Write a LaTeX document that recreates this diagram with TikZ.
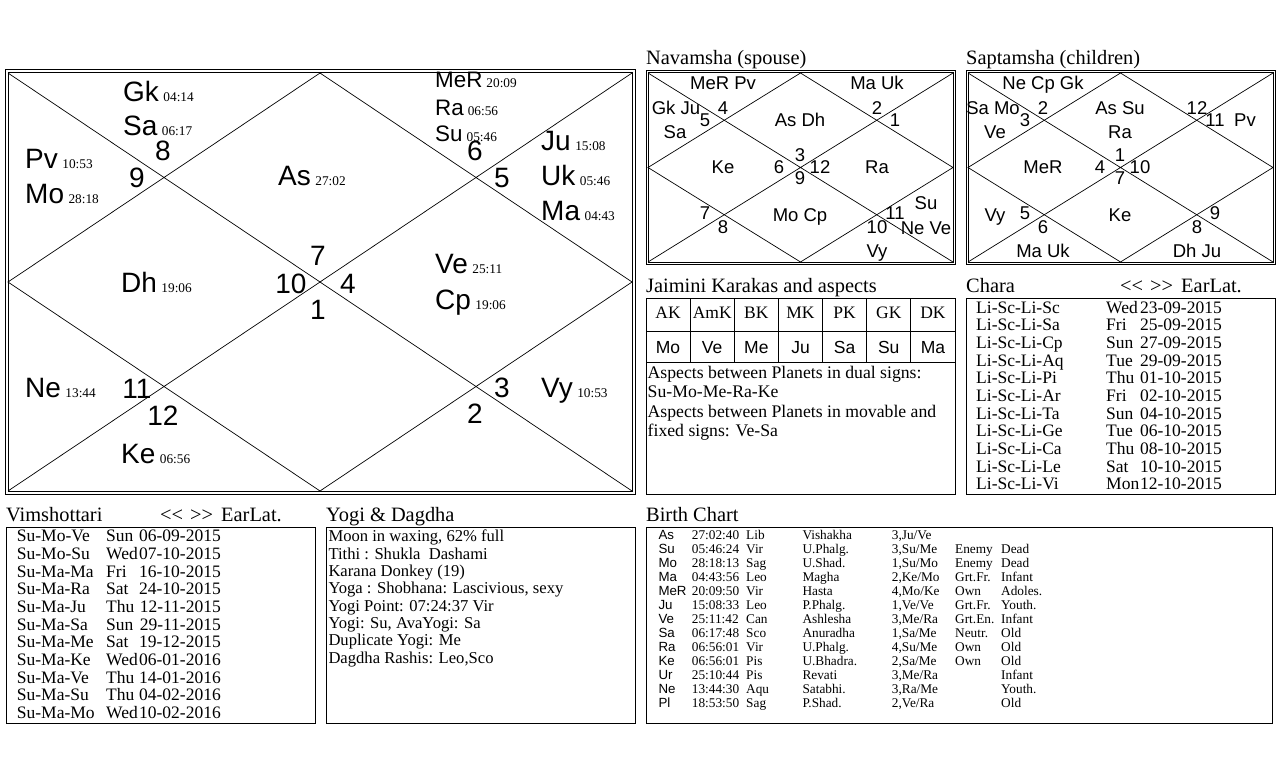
\documentclass[tikz,border=0pt]{standalone}
\usepackage{fontspec}
\setmainfont{Liberation Serif}
\setsansfont{Liberation Sans}
\usetikzlibrary{positioning}
\newcommand\degtxt{\rmfamily\fontsize{13.3}{15}\selectfont}
\newcommand\navarrows{<\kern0pt<\hspace{7pt}>\kern0pt>\hspace{8pt}EarLat.}

\tikzset{
  frameline/.style={draw=black,line width=1pt},
  chartline/.style={draw=black,line width=0.7pt},
  boxline/.style={draw=black,line width=1pt},
  planet/.style={anchor=base west,inner sep=0pt,font=\sffamily\fontsize{28}{30}\selectfont},
  planetsm/.style={anchor=base west,inner sep=0pt,font=\sffamily\fontsize{22.4}{24}\selectfont},
  hnum/.style={anchor=base,inner sep=0pt,yshift=-10pt,font=\sffamily\fontsize{28}{30}\selectfont},
  vargatext/.style={anchor=base,inner sep=0pt,yshift=-6.6pt,font=\sffamily\fontsize{18.5}{20}\selectfont},
  headtext/.style={anchor=base west,inner sep=0pt,font=\fontsize{20.4}{22}\selectfont},
  karaka/.style={anchor=base,inner sep=0pt,yshift=-5.8pt,font=\fontsize{17.5}{19}\selectfont},
  karakapl/.style={anchor=base,inner sep=0pt,yshift=-6.3pt,font=\sffamily\fontsize{17.5}{19}\selectfont},
  jtext/.style={anchor=base west,inner sep=0pt,font=\fontsize{17.7}{19}\selectfont},
  rowtext/.style={anchor=base west,inner sep=0pt,font=\fontsize{17.5}{19}\selectfont},
  yogitext/.style={anchor=base west,inner sep=0pt,font=\fontsize{16.6}{18}\selectfont},
  bctext/.style={anchor=base west,inner sep=0pt,font=\fontsize{13.3}{15}\selectfont},
  bcname/.style={anchor=base west,inner sep=0pt,font=\sffamily\fontsize{13.3}{15}\selectfont}
}

\begin{document}
\begin{tikzpicture}[x=1pt,y=-1pt]
  \fill[white] (0,0) rectangle (1280,768);
  \useasboundingbox (0,0) rectangle (1280,768);

  % the three charts
  \foreach \lx/\ty/\rx/\by/\ox in {8/73/632/491/3, 648/73/953/262/2, 968/73/1273/262/2}{
    \draw[frameline] (\lx-\ox,\ty-\ox) rectangle (\rx+\ox,\by+\ox);
    \draw[frameline] (\lx,\ty) rectangle (\rx,\by);
    \draw[chartline] (\lx,\ty) -- (\rx,\by) (\rx,\ty) -- (\lx,\by);
    \draw[chartline] ({(\lx+\rx)/2},\ty) -- (\rx,{(\ty+\by)/2}) -- ({(\lx+\rx)/2},\by) -- (\lx,{(\ty+\by)/2}) -- cycle;
  }

  % rasi chart
  \foreach \px/\py/\pn/\pg [count=\i] in {123/101.7/Gk/04:14, 123/135/Sa/06:17, 25/168/Pv/10:53, 25/203/Mo/28:18,
      278/185/As/27:02, 541/150/Ju/15:08, 541/185/Uk/05:46, 541/220/Ma/04:43, 435/273/Ve/25:11, 435/309/Cp/19:06,
      121/292/Dh/19:06, 25/397/Ne/13:44, 121/463/Ke/06:56, 541/397/Vy/10:53}
    \node[planet] (pl\i) at (\px,\py) {\pn\hspace{4.5pt}{\degtxt\pg}};
  \foreach \py/\pn/\pg [count=\i] in {88/MeR/20:09, 115/Ra/06:56, 141.7/Su/05:46}
    \node[planetsm] (ps\i) at (435,\py) {\pn\hspace{4pt}{\degtxt\pg}};
  \foreach \hx/\hy/\hn in {163/150/8, 137/177/9, 475/150/6, 502/177/5, 318/255/7, 291/283/10,
      348/283/4, 318/309/1, 137/388/11, 163/415/12, 502/387/3, 475/413/2}
    \node[hnum] (h\hn) at (\hx,\hy) {\hn};

  % navamsha
  \node[headtext] (navt) at (646,65) {Navamsha (spouse)};
  \foreach \vx/\vy/\vt [count=\i] in {723/83/MeR Pv, 877/83/Ma Uk, 676/108/Gk Ju, 675/132/Sa, 705/120/5, 723/108/4,
      800/120/As Dh, 877/108/2, 895/120/1, 723/167/Ke, 779/167/6, 800/155/3, 820/167/12, 800/178/9, 877/167/Ra,
      705/213/7, 723/227/8, 800/215/Mo Cp, 895/213/11, 877/227/10, 926/203/Su, 926/228/Ne Ve, 877/251/Vy}
    \node[vargatext] (nv\i) at (\vx,\vy) {\vt};

  % saptamsha
  \node[headtext] (sapt) at (966,65) {Saptamsha (children)};
  \foreach \vx/\vy/\vt [count=\i] in {1043/83/Ne Cp Gk, 993/108/Sa Mo, 1025/120/3, 1043/108/2, 995/132/Ve,
      1120/108/As Su, 1120/132/Ra, 1197/108/12, 1215/120/11, 1245/120/Pv, 1043/167/MeR, 1100/167/4, 1120/155/1,
      1140/167/10, 1120/178/7, 995/215/Vy, 1025/213/5, 1043/227/6, 1120/215/Ke, 1215/213/9, 1197/227/8,
      1043/251/Ma Uk, 1197/251/Dh Ju}
    \node[vargatext] (sp\i) at (\vx,\vy) {\vt};

  % jaimini
  \node[headtext] (jait) at (646,292.7) {Jaimini Karakas and aspects};
  \draw[boxline] (646,298) rectangle (955,494);
  \draw[boxline] (646,331) -- (955,331) (646,362) -- (955,362);
  \foreach \k in {1,...,6}
    \draw[boxline] (646+44.14*\k,298) -- (646+44.14*\k,362);
  \foreach \kk/\kp [count=\i] in {AK/Mo, AmK/Ve, BK/Me, MK/Ju, PK/Sa, GK/Su, DK/Ma}{
    \node[karaka] (k\i) at ({646+44.14*(\i-0.5)},313) {\kk};
    \node[karakapl] (kp\i) at ({646+44.14*(\i-0.5)},347) {\kp};
  }
  \foreach \ln [count=\i] in {Aspects between Planets in dual signs:, Su-Mo-Me-Ra-Ke,
      Aspects between Planets in movable and, fixed signs: Ve-Sa}
    \node[jtext] (asp\i) at (647.5,{358.8+19.5*\i}) {\ln};

  % chara
  \node[headtext] (chat) at (966,292.7) {Chara};
  \node[headtext] (chanav) at (1120,292.7) {\navarrows};
  \draw[boxline] (966,298) rectangle (1275,494);
  \foreach \da/\dd/\dt [count=\i] in {Li-Sc-Li-Sc/Wed/23-09-2015, Li-Sc-Li-Sa/Fri/25-09-2015, Li-Sc-Li-Cp/Sun/27-09-2015,
      Li-Sc-Li-Aq/Tue/29-09-2015, Li-Sc-Li-Pi/Thu/01-10-2015, Li-Sc-Li-Ar/Fri/02-10-2015, Li-Sc-Li-Ta/Sun/04-10-2015,
      Li-Sc-Li-Ge/Tue/06-10-2015, Li-Sc-Li-Ca/Thu/08-10-2015, Li-Sc-Li-Le/Sat/10-10-2015, Li-Sc-Li-Vi/Mon/12-10-2015}{
    \node[rowtext] (cd\i) at (976,{295.6+17.67*\i}) {\da};
    \node[rowtext] (cw\i) at (1106,{295.6+17.67*\i}) {\dd};
    \node[rowtext,anchor=base east] (ct\i) at (1222,{295.6+17.67*\i}) {\dt};
  }

  % vimshottari
  \node[headtext] (vimt) at (6,521.7) {Vimshottari};
  \node[headtext] (vimnav) at (160,521.7) {\navarrows};
  \draw[boxline] (6,527) rectangle (315,723);
  \foreach \da/\dd/\dt [count=\i] in {Su-Mo-Ve/Sun/06-09-2015, Su-Mo-Su/Wed/07-10-2015, Su-Ma-Ma/Fri/16-10-2015,
      Su-Ma-Ra/Sat/24-10-2015, Su-Ma-Ju/Thu/12-11-2015, Su-Ma-Sa/Sun/29-11-2015, Su-Ma-Me/Sat/19-12-2015,
      Su-Ma-Ke/Wed/06-01-2016, Su-Ma-Ve/Thu/14-01-2016, Su-Ma-Su/Thu/04-02-2016, Su-Ma-Mo/Wed/10-02-2016}{
    \node[rowtext] (vd\i) at (16.7,{524+17.67*\i}) {\da};
    \node[rowtext] (vw\i) at (106,{524+17.67*\i}) {\dd};
    \node[rowtext,anchor=base east] (vt\i) at (221,{524+17.67*\i}) {\dt};
  }

  % yogi and dagdha
  \node[headtext] (yogt) at (326,521.7) {Yogi \& Dagdha};
  \draw[boxline] (326,527) rectangle (635,723);
  \foreach \ln [count=\i] in {{Moon in waxing, 62\% full}, Tithi : Shukla\hspace{4pt} Dashami, Karana Donkey (19),
      {Yoga : Shobhana: Lascivious, sexy}, Yogi Point: 07:24:37 Vir, {Yogi: Su, AvaYogi: Sa},
      Duplicate Yogi: Me, {Dagdha Rashis: Leo,Sco}}
    \node[yogitext] (yg\i) at (328.3,{524.3+17.38*\i}) {\ln};

  % birth chart
  \node[headtext] (bct) at (646,521.7) {Birth Chart};
  \draw[boxline] (646,527) rectangle (1272,723);
  \foreach \bn/\bd/\bs/\bk/\bp/\bla/\blb/\br/\ba [count=\i] in {
      As/27:02:40/Lib/Vishakha/3/Ju/Ve/{}/{},
      Su/05:46:24/Vir/U.Phalg./3/Su/Me/Enemy/Dead,
      Mo/28:18:13/Sag/U.Shad./1/Su/Mo/Enemy/Dead,
      Ma/04:43:56/Leo/Magha/2/Ke/Mo/Grt.Fr./Infant,
      MeR/20:09:50/Vir/Hasta/4/Mo/Ke/Own/Adoles.,
      Ju/15:08:33/Leo/P.Phalg./1/Ve/Ve/Grt.Fr./Youth.,
      Ve/25:11:42/Can/Ashlesha/3/Me/Ra/Grt.En./Infant,
      Sa/06:17:48/Sco/Anuradha/1/Sa/Me/Neutr./Old,
      Ra/06:56:01/Vir/U.Phalg./4/Su/Me/Own/Old,
      Ke/06:56:01/Pis/U.Bhadra./2/Sa/Me/Own/Old,
      Ur/25:10:44/Pis/Revati/3/Me/Ra/{}/Infant,
      Ne/13:44:30/Aqu/Satabhi./3/Ra/Me/{}/Youth.,
      Pl/18:53:50/Sag/P.Shad./2/Ve/Ra/{}/Old}{
    \node[bcname] (bn\i) at (658.3,{525.3+14*\i}) {\bn};
    \node[bctext] (bd\i) at (691.7,{525.3+14*\i}) {\bd};
    \node[bctext] (bs\i) at (746,{525.3+14*\i}) {\bs};
    \node[bctext] (bk\i) at (802.3,{525.3+14*\i}) {\bk};
    \node[bctext] (bp\i) at (891.7,{525.3+14*\i}) {\bp,\bla/\blb};
    \node[bctext] (br\i) at (955,{525.3+14*\i}) {\br};
    \node[bctext] (ba\i) at (1001,{525.3+14*\i}) {\ba};
  }
\end{tikzpicture}
\end{document}
